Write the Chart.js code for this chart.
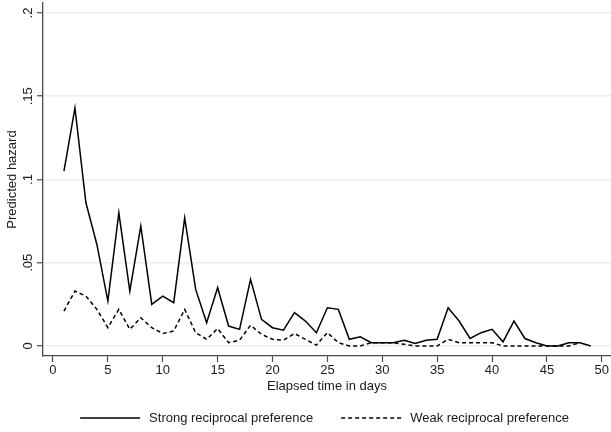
<!DOCTYPE html>
<html>
<head>
<meta charset="utf-8">
<script src="https://cdn.jsdelivr.net/npm/chart.js@4"></script>
<style>
  html, body { margin: 0; padding: 0; background: #ffffff; }
  #wrap { width: 611px; height: 432px; }
</style>
</head>
<body>
<div id="wrap"><canvas id="hazard" width="611" height="432"></canvas></div>
<script>
// Elapsed time (days) and the predicted hazard for each preference group
const days = [1, 2, 3, 4, 5, 6, 7, 8, 9, 10, 11, 12, 13, 14, 15, 16, 17, 18, 19, 20,
  21, 22, 23, 24, 25, 26, 27, 28, 29, 30, 31, 32, 33, 34, 35, 36, 37, 38, 39, 40,
  41, 42, 43, 44, 45, 46, 47, 48, 49];

const strongHazard = [0.105, 0.143, 0.086, 0.061, 0.027, 0.080, 0.033, 0.072, 0.025, 0.030,
  0.026, 0.077, 0.034, 0.014, 0.035, 0.012, 0.010, 0.040, 0.016, 0.011,
  0.0095, 0.020, 0.015, 0.008, 0.023, 0.022, 0.004, 0.0055, 0.002, 0.002,
  0.002, 0.0035, 0.0015, 0.0035, 0.004, 0.023, 0.015, 0.0045, 0.008, 0.010,
  0.0025, 0.015, 0.0045, 0.002, 0.0, 0.0, 0.002, 0.002, 0.0];

const weakHazard = [0.021, 0.033, 0.030, 0.022, 0.011, 0.022, 0.010, 0.017, 0.011, 0.0075,
  0.009, 0.022, 0.008, 0.004, 0.0105, 0.002, 0.0035, 0.0125, 0.007, 0.004,
  0.0035, 0.0075, 0.004, 0.0005, 0.008, 0.002, 0.0, 0.0, 0.002, 0.002,
  0.002, 0.001, 0.0, 0.0, 0.0, 0.004, 0.002, 0.002, 0.002, 0.002,
  0.0, 0.0, 0.0, 0.0, 0.0, 0.0, 0.0, 0.002];

const seriesLabels = ['Strong reciprocal preference', 'Weak reciprocal preference'];

const xTickValues = [0, 5, 10, 15, 20, 25, 30, 35, 40, 45, 50];
const yTickValues = [0, 0.05, 0.1, 0.15, 0.2];
const yTickLabels = ['0', '.05', '.1', '.15', '.2'];

const axisTitleX = 'Elapsed time in days';
const axisTitleY = 'Predicted hazard';

const FONT = '"Liberation Sans", Arial, Helvetica, sans-serif';
const TEXT = '#1a1a1a';
const AXIS = '#4a4a4a';
const GRID = '#e6eff1';

Chart.defaults.font.family = FONT;
Chart.defaults.font.size = 13;
Chart.defaults.color = TEXT;

const toPoints = (vals) => vals.map((v, i) => ({ x: days[i], y: v }));

// Legend drawn below the axis: a line sample followed by the series name
const lineLegend = {
  id: 'lineLegend',
  afterDraw(chart, args, opts) {
    const ctx = chart.ctx;
    const area = chart.chartArea;
    ctx.save();
    ctx.font = opts.fontSize + 'px ' + FONT;
    const items = chart.data.datasets.map(ds => ({
      text: ds.label,
      dash: ds.borderDash || [],
      color: ds.borderColor,
      width: ds.borderWidth
    }));
    const widths = items.map(it => opts.sample + opts.textGap + ctx.measureText(it.text).width);
    const total = widths.reduce((a, b) => a + b, 0) + opts.itemGap * (items.length - 1);
    let x = (area.left + area.right) / 2 + opts.shiftX - total / 2;
    const y = opts.y;
    items.forEach((it, i) => {
      ctx.beginPath();
      ctx.setLineDash(it.dash);
      ctx.strokeStyle = it.color;
      ctx.lineWidth = it.width;
      ctx.moveTo(x, y);
      ctx.lineTo(x + opts.sample, y);
      ctx.stroke();
      ctx.setLineDash([]);
      ctx.fillStyle = TEXT;
      ctx.textAlign = 'left';
      ctx.textBaseline = 'middle';
      ctx.fillText(it.text, x + opts.sample + opts.textGap, y);
      x += widths[i] + opts.itemGap;
    });
    ctx.restore();
  }
};

new Chart(document.getElementById('hazard'), {
  type: 'line',
  data: {
    datasets: [
      {
        label: seriesLabels[0],
        data: toPoints(strongHazard),
        borderColor: '#000000',
        borderWidth: 1.5,
        pointRadius: 0,
        tension: 0,
        fill: false
      },
      {
        label: seriesLabels[1],
        data: toPoints(weakHazard),
        borderColor: '#000000',
        borderWidth: 1.5,
        borderDash: [4, 3],
        pointRadius: 0,
        tension: 0,
        fill: false
      }
    ]
  },
  plugins: [lineLegend],
  options: {
    responsive: false,
    animation: false,
    events: [],
    layout: { padding: { top: 3, right: 0, bottom: 36, left: 0 } },
    plugins: {
      legend: { display: false },
      tooltip: { enabled: false },
      lineLegend: { y: 418, sample: 60, textGap: 9, itemGap: 28, fontSize: 13, shiftX: -2.5 }
    },
    scales: {
      x: {
        type: 'linear',
        min: -0.91,
        max: 50.84,
        afterBuildTicks: (scale) => { scale.ticks = xTickValues.map(v => ({ value: v })); },
        afterFit: (scale) => { scale.height = 40; scale.paddingLeft = 0; scale.paddingRight = 0; },
        ticks: {
          autoSkip: false,
          maxRotation: 0,
          padding: 1,
          color: TEXT,
          callback: (v) => String(v)
        },
        grid: {
          drawOnChartArea: false,
          drawTicks: true,
          tickLength: 6,
          tickColor: AXIS,
          tickWidth: 1.2
        },
        border: { display: true, color: AXIS, width: 1.3 },
        title: {
          display: true,
          text: axisTitleX,
          color: TEXT,
          padding: { top: 0, bottom: 2 }
        }
      },
      y: {
        type: 'linear',
        min: -0.006,
        max: 0.206,
        afterBuildTicks: (scale) => { scale.ticks = yTickValues.map(v => ({ value: v })); },
        afterFit: (scale) => { scale.width = 43; scale.paddingTop = 0; scale.paddingBottom = 0; },
        ticks: {
          autoSkip: false,
          minRotation: 90,
          maxRotation: 90,
          crossAlign: 'center',
          padding: 0,
          color: TEXT,
          callback: (v) => {
            const i = yTickValues.findIndex(t => Math.abs(t - v) < 1e-9);
            return i >= 0 ? yTickLabels[i] : '';
          }
        },
        grid: {
          drawOnChartArea: true,
          color: GRID,
          lineWidth: 1.5,
          drawTicks: true,
          tickLength: 6,
          tickColor: AXIS,
          tickWidth: 1.2
        },
        border: { display: true, color: AXIS, width: 1.3 },
        title: {
          display: true,
          text: axisTitleY,
          color: TEXT,
          padding: { top: 5, bottom: 0 }
        }
      }
    }
  }
});
</script>
</body>
</html>
